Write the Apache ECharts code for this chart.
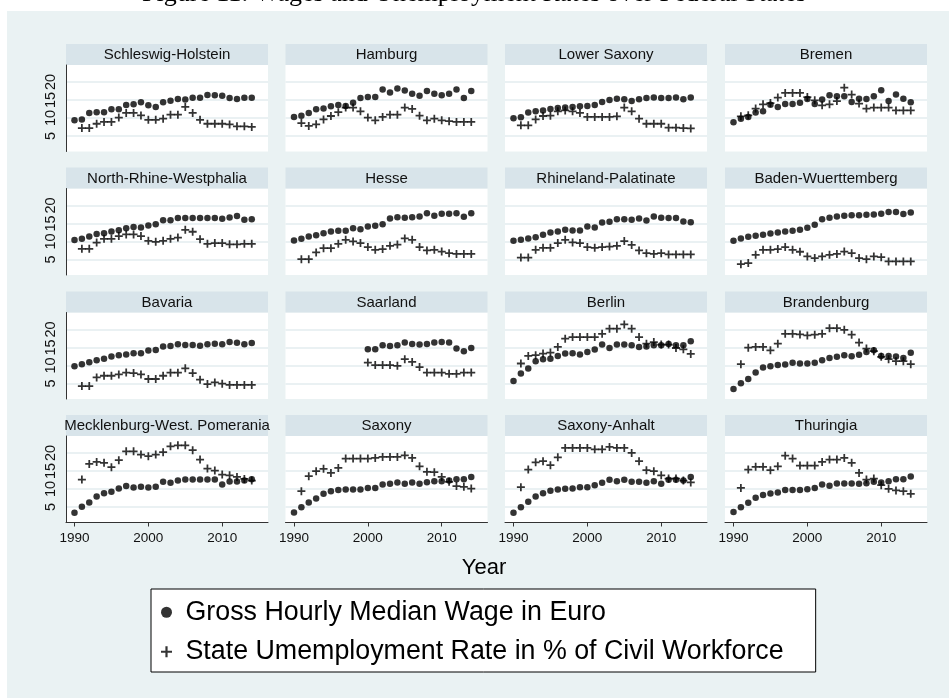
<!DOCTYPE html>
<html><head><meta charset="utf-8">
<script src="https://cdn.jsdelivr.net/npm/echarts@6/dist/echarts.min.js"></script>
<style>html,body{margin:0;padding:0;background:#fff}#c{width:949px;height:698px}</style>
</head><body><div id="c"></div>
<script>
// ---------- data ----------
const years = [1990,1991,1992,1993,1994,1995,1996,1997,1998,1999,2000,2001,2002,2003,2004,2005,2006,2007,2008,2009,2010,2011,2012,2013,2014];
const xTickValues = [1990, 2000, 2010];
const yTickValues = [5, 10, 15, 20];
const wageName = 'Gross Hourly Median Wage in Euro';
const unempName = 'State Umemployment Rate in % of Civil Workforce';
const panelNames = ['Schleswig-Holstein','Hamburg','Lower Saxony','Bremen',
  'North-Rhine-Westphalia','Hesse','Rhineland-Palatinate','Baden-Wuerttemberg',
  'Bavaria','Saarland','Berlin','Brandenburg',
  'Mecklenburg-West. Pomerania','Saxony','Saxony-Anhalt','Thuringia'];

const wageSH = [9.35,9.6,11.4,11.6,11.6,12.4,12.4,13.6,13.8,14.35,13.5,13.05,14.35,14.8,15.3,15.1,15.6,15.6,16.4,16.3,16.2,15.55,15.3,15.6,15.6];
const unempSH = [null,7.2,7.2,8.4,8.9,8.9,10.1,11.4,11.4,10.7,9.5,9.5,9.8,10.9,10.9,13.05,11.4,9.5,8.4,8.4,8.4,8.2,7.7,7.7,7.5];
const wageHH = [10.3,10.65,11.4,12.4,12.6,13.25,13.6,13.3,14.2,15.55,15.8,15.8,17.9,17.1,18.15,17.6,16.75,16.2,17.5,16.75,16.3,16.75,17.9,15.55,17.5];
const unempHH = [null,8.6,7.8,8.25,9.6,10.55,11.6,12.9,12.9,11.85,10.1,9.35,10.3,10.9,10.9,12.9,12.5,10.65,9.35,9.8,9.35,9.1,8.9,8.9,8.9];
const wageNI = [9.9,10.2,11.5,11.85,12.05,12.5,12.8,12.9,13.05,13.25,13.3,13.6,14.45,15.0,15.35,15.2,14.7,15.2,15.55,15.65,15.55,15.55,15.65,15.2,15.65];
const unempNI = [null,7.95,7.95,9.6,10.55,10.65,11.85,12.1,11.85,11.4,10.3,10.3,10.3,10.3,10.45,12.9,11.85,9.8,8.4,8.4,8.4,7.3,7.3,7.2,7.1];
const wageHB = [8.8,9.8,10.3,11.5,11.85,13.7,13.05,13.9,13.9,14.25,15.3,13.9,15.1,16.3,16.0,16.0,14.45,15.35,15.3,16.0,17.7,14.7,16.5,15.35,14.35];
const unempHB = [null,10.45,10.75,12.6,13.8,14.15,15.65,16.95,16.95,16.95,15.8,14.9,13.5,13.8,14.7,18.4,16.5,14.0,12.6,12.9,12.9,12.9,12.1,12.1,12.1];
const wageNW = [10.4,10.75,11.4,12.05,12.3,12.8,13.15,13.7,14.0,13.9,14.45,14.8,15.9,15.9,16.5,16.5,16.5,16.5,16.5,16.5,16.3,16.65,17.05,16.0,16.2];
const unempNW = [null,7.95,7.95,9.7,10.75,10.75,11.5,11.95,11.95,11.5,10.2,9.9,10.2,10.75,11.1,13.25,12.7,10.65,9.35,9.55,9.55,9.2,9.2,9.35,9.35];
const wageHE = [10.3,10.75,11.4,11.75,12.3,12.8,12.95,12.95,13.7,13.4,14.15,14.35,14.8,16.4,16.75,16.55,16.75,16.95,17.85,17.15,17.7,17.7,17.8,16.85,17.85];
const unempHE = [null,5.1,5.1,6.95,8.15,8.15,9.35,10.45,10.0,9.55,8.45,7.7,7.9,8.8,9.15,10.85,10.45,8.45,7.5,7.7,7.2,6.75,6.55,6.55,6.55];
const wageRP = [10.2,10.45,10.85,11.2,11.85,12.5,12.8,13.25,13.05,13.05,14.15,13.9,15.3,15.45,16.2,16.2,16.0,16.4,15.85,16.95,16.55,16.5,16.5,15.55,15.35];
const unempRP = [null,5.55,5.55,7.7,8.25,8.25,9.55,10.45,9.75,9.55,8.45,8.25,8.45,8.6,8.8,10.1,9.05,7.5,6.75,6.55,6.75,6.4,6.4,6.4,6.4];
const wageBW = [10.2,10.85,11.3,11.6,11.85,12.2,12.5,12.8,12.95,13.25,13.8,14.65,16.2,16.55,16.95,17.15,17.3,17.3,17.4,17.5,17.7,18.15,18.15,17.6,18.05];
const unempBW = [null,3.7,4.0,6.3,7.7,7.7,7.9,8.45,7.7,7.15,5.85,5.4,5.85,6.3,6.55,7.2,6.75,5.4,5.1,5.85,5.65,4.45,4.45,4.45,4.45];
const wageBY = [9.8,10.35,10.9,11.45,11.9,12.5,12.85,13.05,13.4,13.4,14.15,14.3,15.25,15.4,15.9,15.7,15.7,15.5,15.9,16.05,15.9,16.5,16.3,15.9,16.25];
const unempBY = [null,4.3,4.3,6.7,7.15,7.15,7.5,8.05,7.9,7.5,6.25,6.25,7.15,8.0,8.0,9.2,7.9,6.05,4.85,5.3,4.95,4.6,4.6,4.6,4.6];
const wageSL = [null,null,null,null,null,null,null,null,null,null,14.5,14.5,15.6,15.4,15.6,16.35,15.95,15.8,15.95,16.35,16.5,16.35,14.7,13.95,14.85];
const unempSL = [null,null,null,null,null,null,null,null,null,null,10.8,10.1,10.1,10.1,9.9,11.75,11.0,9.55,8.05,8.05,8.05,7.7,7.7,8.05,8.05];
const wageBE = [5.7,7.8,9.15,11.2,11.75,11.9,12.65,13.3,13.4,13.05,13.75,14.4,15.8,14.85,15.8,15.8,15.6,15.15,15.3,15.6,15.6,15.95,15.6,15.6,16.7];
const unempBE = [null,10.55,12.65,12.85,13.3,13.6,15.15,17.45,17.9,17.9,17.9,17.9,18.8,20.2,20.2,21.4,20.2,17.9,16.05,16.5,15.8,15.8,14.85,14.5,13.2];
const wageBB = [3.5,5.05,6.25,8.05,9.45,9.8,10.1,10.3,10.75,10.55,10.55,10.75,11.45,12.1,12.4,12.85,12.55,13.0,13.75,14.2,12.65,12.65,12.5,12.1,13.5];
const unempBB = [null,10.35,14.95,15.15,15.15,14.2,16.05,18.8,18.8,18.6,18.35,18.55,18.8,20.35,20.35,19.9,18.55,16.35,14.7,13.95,12.4,11.75,11.2,11.2,10.35];
const wageMV = [3.4,5.05,6.25,7.9,8.85,9.2,10.15,10.8,10.4,10.6,10.4,10.6,12.0,11.7,12.35,12.65,12.65,12.65,12.65,12.65,11.25,12.1,12.1,12.35,12.7];
const unempMV = [null,12.6,16.95,17.5,17.25,16.05,18.0,20.45,20.45,19.55,19.1,19.55,20.2,21.85,22.1,22.1,20.75,18.15,15.65,15.1,14.0,13.8,13.35,12.8,12.35];
const wageSN = [3.5,4.95,6.25,7.35,8.65,9.4,9.7,9.85,9.85,9.85,10.25,10.3,11.25,11.45,11.8,11.45,11.8,11.45,11.9,12.15,12.15,12.35,12.7,12.7,13.35];
const unempSN = [null,9.4,13.55,14.95,15.6,14.45,15.85,18.45,18.45,18.45,18.45,18.6,18.9,18.9,18.9,19.35,18.6,16.3,14.75,14.65,13.35,12.0,10.8,10.6,10.1];
const wageST = [3.4,4.95,6.45,7.9,8.85,9.5,9.85,10.05,10.15,10.5,10.5,11.05,11.7,12.55,12.15,12.55,12.0,12.0,11.7,12.15,11.45,12.55,12.55,12.35,13.35];
const unempST = [null,10.5,15.4,17.4,17.7,16.6,18.8,21.4,21.4,21.4,21.4,21.0,21.0,21.65,21.4,21.4,20.0,17.7,15.2,14.95,13.8,12.9,12.9,12.35,11.8];
const wageTH = [3.6,4.95,6.2,7.55,8.3,8.75,9.05,9.7,9.7,9.75,9.95,10.3,11.25,10.9,11.5,11.5,11.5,11.45,11.6,12.0,11.8,12.15,12.7,12.7,13.45];
const unempTH = [null,10.3,15.4,16.15,16.15,15.2,16.3,19.25,18.45,16.5,16.5,16.5,17.5,18.15,18.15,18.6,17.25,14.45,12.6,12.9,11.05,10.05,9.6,9.4,8.65];

const wageByPanel = [wageSH,wageHH,wageNI,wageHB,wageNW,wageHE,wageRP,wageBW,wageBY,wageSL,wageBE,wageBB,wageMV,wageSN,wageST,wageTH];
const unempByPanel = [unempSH,unempHH,unempNI,unempHB,unempNW,unempHE,unempRP,unempBW,unempBY,unempSL,unempBE,unempBB,unempMV,unempSN,unempST,unempTH];

// ---------- layout / style ----------
const colLeft = [66, 285.5, 505, 725];
const rowTop = [65, 188.5, 312.5, 436];
const PW = 202, PH = 86.5, HDR = 21;
const FONT = '"Liberation Sans", Arial, sans-serif';
const BG = '#eaf2f3', HEADER = '#d8e4ea', GRID = '#e3ecef', AXIS = '#333';
const plusPath = 'path://M3.9,0H6.1V3.9H10V6.1H6.1V10H3.9V6.1H0V3.9H3.9Z';
const plusLegend = 'path://M4,0H6V4H10V6H6V10H4V6H0V4H4Z';

const grids = [], xAxes = [], yAxes = [], series = [];
const graphics = [
  {type:'rect', shape:{x:0,y:0,width:949,height:11}, style:{fill:'#fff'}, silent:true, z:1},
  {type:'rect', shape:{x:0,y:0,width:7,height:698}, style:{fill:'#fff'}, silent:true, z:1},
  {type:'text', x:474, y:7, silent:true, z:2, style:{text:'Figure 11: Wages and Unemployment Rates over Federal States',
     font:'26px "Liberation Serif", "Times New Roman", serif', fill:'#000', align:'center', verticalAlign:'bottom'}},
  {type:'text', x:484, y:568, silent:true, style:{text:'Year', font:'22px ' + FONT, fill:'#000', align:'center', verticalAlign:'middle'}}
];

const toPairs = arr => years.map((y, k) => [y, arr[k]]).filter(p => p[1] !== null);

for (let i = 0; i < 16; i++) {
  const r = Math.floor(i / 4), c = i % 4;
  const left = colLeft[c], top = rowTop[r];
  const bottomRow = r === 3, leftCol = c === 0;
  grids.push({left:left, top:top, width:PW, height:PH, show:true, backgroundColor:'#fff', borderWidth:0, containLabel:false, outerBoundsMode:'none'});
  graphics.push({type:'rect', shape:{x:left, y:top-HDR, width:PW, height:HDR}, style:{fill:HEADER}, silent:true});
  graphics.push({type:'text', x:left+PW/2, y:top-HDR/2+0.5, silent:true, z:3,
    style:{text:panelNames[i], font:'15px ' + FONT, fill:'#111', align:'center', verticalAlign:'middle'}});
  xAxes.push({type:'value', gridIndex:i, min:1988.85, max:2016.2,
    axisLine:{show:bottomRow, onZero:false, lineStyle:{color:AXIS, width:1}},
    axisTick:{show:bottomRow, customValues:xTickValues, length:4, lineStyle:{color:AXIS}},
    axisLabel:{show:bottomRow, customValues:xTickValues, formatter: v => String(v), fontSize:13.5, fontFamily:FONT, color:'#111', margin:9},
    splitLine:{show:false}});
  yAxes.push({type:'value', gridIndex:i, min:0.7, max:24.7,
    axisLine:{show:leftCol, onZero:false, lineStyle:{color:AXIS, width:1}},
    axisTick:{show:false, customValues:yTickValues},
    axisLabel:{show:leftCol, customValues:yTickValues, formatter: v => String(v), rotate:90, fontSize:14.5, fontFamily:FONT, color:'#111', margin:8},
    splitLine:{show:true, lineStyle:{color:GRID, width:1.6}}});
  series.push({type:'scatter', name:wageName, xAxisIndex:i, yAxisIndex:i, symbol:'circle', symbolSize:6.5,
    itemStyle:{color:'#000'}, data:toPairs(wageByPanel[i]), z:2});
  series.push({type:'scatter', name:unempName, xAxisIndex:i, yAxisIndex:i, symbol:plusPath, symbolSize:8,
    itemStyle:{color:'#000'}, data:toPairs(unempByPanel[i]), z:3});
}

const chart = echarts.init(document.getElementById('c'), null, {renderer:'canvas'});
chart.setOption({
  backgroundColor: BG,
  animation: false,
  grid: grids, xAxis: xAxes, yAxis: yAxes, series: series,
  legend: {
    orient:'vertical', left:151, top:589, selectedMode:false,
    backgroundColor:'#fff', borderColor:'#000', borderWidth:1,
    padding:[9.75, 32, 6.75, 10], itemGap:12.5, itemWidth:28, itemHeight:11,
    textStyle:{fontSize:26.8, fontFamily:FONT, color:'#000'},
    data:[{name:wageName, icon:'circle'}, {name:unempName, icon:plusLegend}]
  },
  graphic: graphics
});
</script>
</body></html>
